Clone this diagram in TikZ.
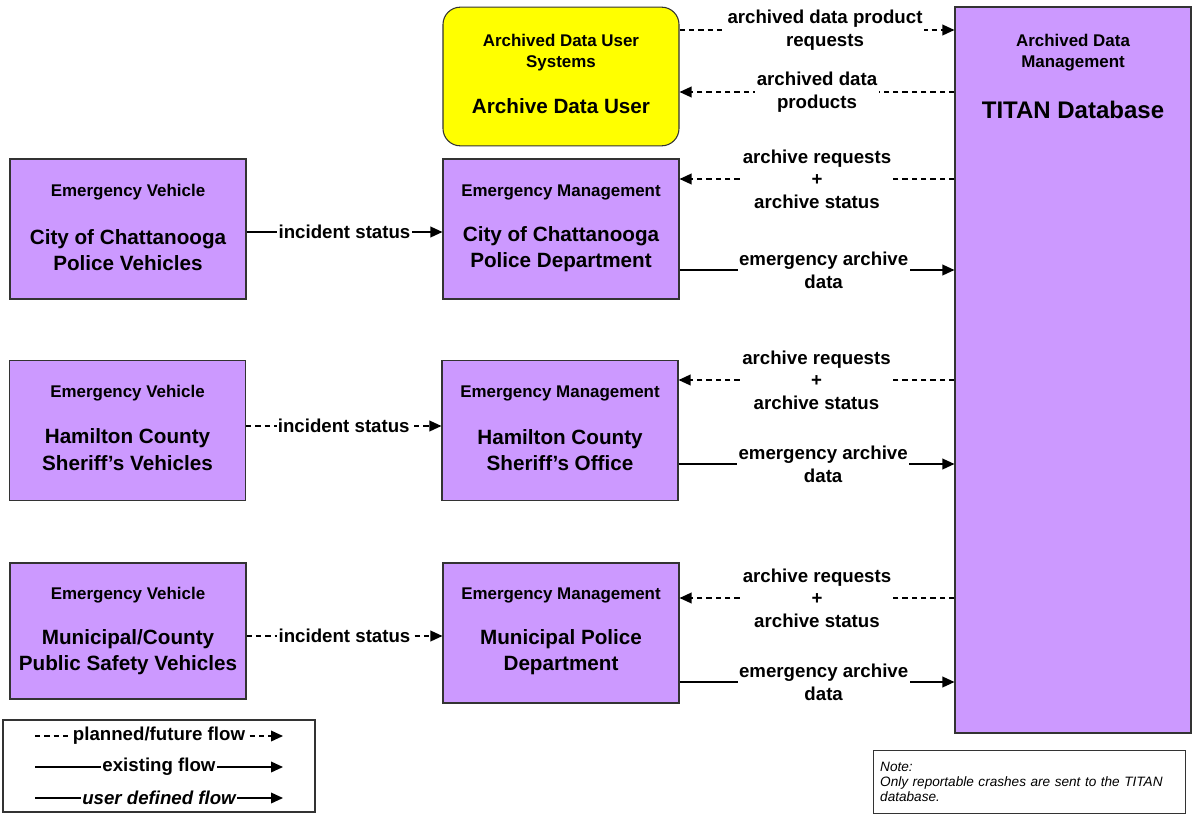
\documentclass[tikz,border=0pt]{standalone}
\usepackage{fontspec}
\setmainfont{Liberation Sans}
\usetikzlibrary{arrows.meta,calc}

\definecolor{sysviolet}{HTML}{CC99FF}
\definecolor{usryellow}{HTML}{FFFF00}

\tikzset{
  sysbox/.style={draw=black!80, line width=0.8pt, fill=sysviolet,
    minimum width=177pt, minimum height=105pt, inner sep=0pt},
  userbox/.style={sysbox, fill=usryellow, rounded corners=13pt, minimum height=104pt},
  hdrtext/.style={font=\fontsize{12.7}{15.5}\selectfont\bfseries, align=center, inner sep=0pt},
  ttltext/.style={font=\fontsize{15.5}{20}\selectfont\bfseries, align=center, inner sep=0pt},
  flowlbl/.style={font=\fontsize{14}{17}\selectfont\bfseries, fill=white, align=center, inner sep=1pt},
  existing/.style={line width=1.1pt},
  planned/.style={line width=1.1pt, dash pattern=on 4pt off 3pt},
}

\begin{document}
\begin{tikzpicture}[x=0.75pt, y=-0.75pt, >={Triangle[length=9pt,width=8pt]}]
  \useasboundingbox (0,0) rectangle (1193,814);

  % archive side
  \node[sysbox, minimum height=544.5pt] (titan) at (1073,370) {};
  \node[hdrtext] (titanh) at ($(titan.north)+(0,46)$) {Archived Data\\Management};
  \node[ttltext, font=\fontsize{18}{22}\selectfont\bfseries] (titant) at ($(titan.north)+(0,103)$) {TITAN Database};

  \node[userbox] (user) at (561,76.5) {};
  \node[hdrtext] (userh) at ($(user.center)+(0,-24)$) {Archived Data User\\Systems};
  \node[ttltext] (usert) at ($(user.center)+(0,30)$) {Archive Data User};

  % vehicles
  \node[sysbox] (veh1) at (128,229) {};
  \node[hdrtext] (veh1h) at ($(veh1.north)+(0,34)$) {Emergency Vehicle};
  \node[ttltext] (veh1t) at ($(veh1.center)+(0,21)$) {City of Chattanooga\\Police Vehicles};

  \node[sysbox] (veh2) at (127.5,430.5) {};
  \node[hdrtext] (veh2h) at ($(veh2.north)+(0,33)$) {Emergency Vehicle};
  \node[ttltext] (veh2t) at ($(veh2.center)+(0,19)$) {Hamilton County\\Sheriff’s Vehicles};

  \node[sysbox, minimum height=102pt] (veh3) at (128,631) {};
  \node[hdrtext] (veh3h) at ($(veh3.north)+(0,33)$) {Emergency Vehicle};
  \node[ttltext] (veh3t) at ($(veh3.center)+(0,21)$) {Municipal/County\\Public Safety Vehicles};

  % emergency management
  \node[sysbox] (emm1) at (561,229) {};
  \node[hdrtext] (emm1h) at ($(emm1.north)+(0,34)$) {Emergency Management};
  \node[ttltext] (emm1t) at ($(emm1.center)+(0,20)$) {City of Chattanooga\\Police Department};

  \node[sysbox] (emm2) at (560,430.5) {};
  \node[hdrtext] (emm2h) at ($(emm2.north)+(0,33)$) {Emergency Management};
  \node[ttltext] (emm2t) at ($(emm2.center)+(0,19.5)$) {Hamilton County\\Sheriff’s Office};

  \node[sysbox] (emm3) at (561,633) {};
  \node[hdrtext] (emm3h) at ($(emm3.north)+(0,33)$) {Emergency Management};
  \node[ttltext] (emm3t) at ($(emm3.center)+(0,19)$) {Municipal Police\\Department};

  % user flows
  \coordinate (u1) at ($(user.east)+(0,-46.5)$);
  \coordinate (u2) at ($(user.east)+(0,15.5)$);
  \draw[planned,->] (u1) -- node[flowlbl, xshift=6pt]{archived data product\\requests} (u1 -| titan.west);
  \draw[planned,->] (u2 -| titan.west) -- node[flowlbl]{archived data\\products} (u2);

  % incident status
  \coordinate (i1) at ($(veh1.east)+(0,3)$);
  \coordinate (i2) at ($(veh2.east)+(0,-4.5)$);
  \coordinate (i3) at ($(veh3.east)+(0,5)$);
  \draw[existing,->] (i1) -- node[flowlbl]{incident status} (i1 -| emm1.west);
  \draw[planned,->] (i2) -- node[flowlbl]{incident status} (i2 -| emm2.west);
  \draw[planned,->] (i3) -- node[flowlbl]{incident status} (i3 -| emm3.west);

  % archive flows
  \coordinate (a1) at ($(emm1.east)+(0,-50)$);
  \coordinate (d1) at ($(emm1.east)+(0,41)$);
  \coordinate (a2) at ($(emm2.east)+(0,-50.5)$);
  \coordinate (d2) at ($(emm2.east)+(0,33.5)$);
  \coordinate (a3) at ($(emm3.east)+(0,-35)$);
  \coordinate (d3) at ($(emm3.east)+(0,49)$);
  \foreach \k in {1,2,3}{
    \draw[planned,->] (a\k -| titan.west) -- node[flowlbl]{archive requests\\+\\archive status} (a\k);
    \draw[existing,->] (d\k) -- node[flowlbl, xshift=5pt]{emergency archive\\data} (d\k -| titan.west);
  }

  % legend
  \node[draw=black!80, line width=0.8pt, minimum width=234pt, minimum height=69pt] (legend) at (159,766) {};
  \coordinate (lgA) at (35,736);
  \coordinate (lgB) at (35,767);
  \coordinate (lgC) at (35,798);
  \draw[planned,->] (lgA) -- node[flowlbl]{planned/future flow} (lgA -| 283,0);
  \draw[existing,->] (lgB) -- node[flowlbl]{existing flow} (lgB -| 283,0);
  \draw[existing,->] (lgC) -- node[flowlbl, font=\fontsize{14}{17}\selectfont\bfseries\itshape]{user defined flow} (lgC -| 283,0);

  % note
  \node[draw=black!80, line width=0.8pt, anchor=north west, text width=224pt, minimum height=47pt,
        inner xsep=5pt, inner ysep=3pt, align=left, font=\fontsize{10.2}{11}\selectfont\itshape] (note) at (873,750)
        {Note:\\Only reportable crashes are sent to the TITAN database.};
\end{tikzpicture}
\end{document}
